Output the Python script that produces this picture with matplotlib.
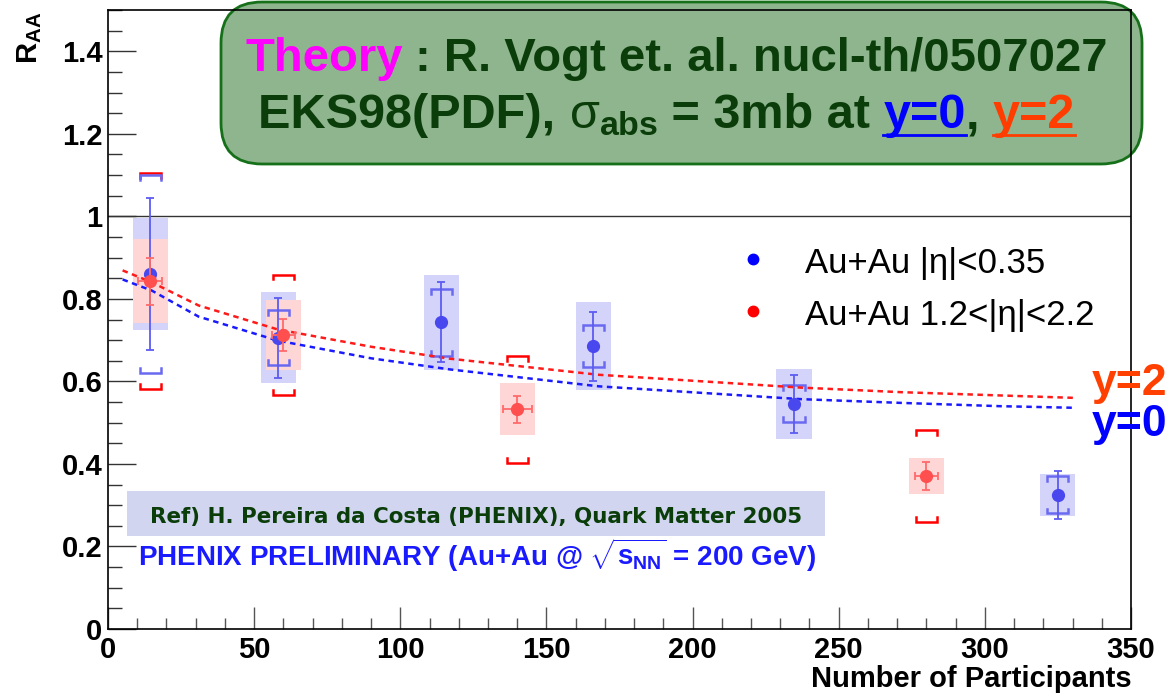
import matplotlib
matplotlib.use("Agg")
import matplotlib.pyplot as plt
from matplotlib.patches import Rectangle, FancyBboxPatch
from matplotlib.lines import Line2D
from matplotlib.ticker import MultipleLocator, FuncFormatter

# Au+Au |eta|<0.35 (mid rapidity)
npart_mid = [14.4, 58.2, 114.0, 166.0, 234.7, 325.0]
raa_mid = [0.860, 0.706, 0.743, 0.685, 0.546, 0.325]
stat_mid = [0.185, 0.097, 0.097, 0.083, 0.070, 0.058]
box_mid = [0.135, 0.110, 0.115, 0.107, 0.085, 0.050]
brk_mid = [0.240, 0.066, 0.081, 0.051, 0.045, 0.045]

# Au+Au 1.2<|eta|<2.2 (forward rapidity)
npart_fwd = [14.4, 60.0, 140.0, 280.0]
raa_fwd = [0.843, 0.713, 0.532, 0.371]
stat_fwd = [0.057, 0.039, 0.033, 0.034]
xerr_fwd = [4.0, 4.0, 5.0, 4.0]
box_fwd = [0.101, 0.085, 0.063, 0.044]
brk_fwd = [0.262, 0.146, 0.129, 0.112]

# Vogt EKS98, sigma_abs = 3 mb
npart_th = [5, 15, 31, 58, 90, 117, 168, 237, 271, 305, 331]
theory_y2 = [0.869, 0.840, 0.784, 0.726, 0.684, 0.655, 0.616, 0.585, 0.574, 0.566, 0.560]
theory_y0 = [0.847, 0.820, 0.757, 0.699, 0.656, 0.629, 0.588, 0.557, 0.548, 0.540, 0.536]

W, H = 1174, 693
BLUE = "#0000ff"
RED = "#ff0000"
DKGREEN = "#0a3d0a"
SANS = ["Liberation Sans", "DejaVu Sans"]

plt.rcParams["font.family"] = SANS
plt.rcParams["mathtext.fontset"] = "custom"
plt.rcParams["mathtext.rm"] = "Liberation Sans:bold"
plt.rcParams["mathtext.bf"] = "Liberation Sans:bold"
plt.rcParams["mathtext.it"] = "Liberation Sans"

fig = plt.figure(figsize=(W / 100, H / 100), dpi=100)
fig.patch.set_facecolor("white")


def fx(x):
    return x / W


def fy(y):
    return 1 - y / H


ax = fig.add_axes([fx(108), fy(629), (1131 - 108) / W, (629 - 10) / H])
ax.set_facecolor("none")
ax.set_zorder(1)
ax.set_xlim(0, 350)
ax.set_ylim(0, 1.5)

for s in ["left", "bottom", "right", "top"]:
    ax.spines[s].set_linewidth(1.2)
ax.yaxis.set_major_locator(MultipleLocator(0.2))
ax.yaxis.set_minor_locator(MultipleLocator(0.05))
ax.xaxis.set_major_locator(MultipleLocator(50))
ax.xaxis.set_minor_locator(MultipleLocator(10))
ax.yaxis.set_major_formatter(FuncFormatter(lambda v, p: "%g" % round(v, 2)))
ax.tick_params(axis="y", which="major", direction="in", length=20, width=1, color="#333333",
               pad=4, labelsize=21)
ax.tick_params(axis="y", which="minor", direction="in", length=10, width=1, color="#333333")
ax.tick_params(axis="x", which="major", direction="in", length=16, width=1, color="#555555",
               pad=5, labelsize=21)
ax.tick_params(axis="x", which="minor", direction="in", length=8, width=1, color="#555555")
for lab in ax.get_xticklabels() + ax.get_yticklabels():
    lab.set_fontweight("bold")

ax.axhline(1.0, color="#333333", lw=1.0, zorder=1)

# systematic boxes (drawn first so the bars show through)
for x, y, b in zip(npart_mid, raa_mid, box_mid):
    ax.add_patch(Rectangle((x - 6, y - b), 12, 2 * b, facecolor="#d4d4fb",
                           edgecolor="none", zorder=2))
for x, y, b in zip(npart_fwd, raa_fwd, box_fwd):
    ax.add_patch(Rectangle((x - 6, y - b), 12, 2 * b, facecolor="#ffd6d6",
                           edgecolor="none", zorder=2))


def brackets(xs, ys, errs, color, z):
    leg = 0.012
    for x, y, e in zip(xs, ys, errs):
        top, bot = y + e, y - e
        ax.plot([x - 3.6, x - 3.6, x + 3.6, x + 3.6], [top - leg, top, top, top - leg],
                color=color, lw=1.8, zorder=z, solid_joinstyle="miter")
        ax.plot([x - 3.6, x - 3.6, x + 3.6, x + 3.6], [bot + leg, bot, bot, bot + leg],
                color=color, lw=1.8, zorder=z, solid_joinstyle="miter")


brackets(npart_fwd, raa_fwd, brk_fwd, RED, 3)
brackets(npart_mid, raa_mid, brk_mid, "#6a6af0", 3)

# theory curves
ax.plot(npart_th, theory_y2, color="#ff1a1a", lw=1.8, ls=(0, (2.2, 1.8)), zorder=3)
ax.plot(npart_th, theory_y0, color="#1a1aff", lw=1.8, ls=(0, (2.2, 1.8)), zorder=3)

# measured points
ax.errorbar(npart_mid, raa_mid, yerr=stat_mid, fmt="o", ms=8.5, color="#4848ee",
            ecolor="#5c5cf2", elinewidth=1.3, capsize=3, capthick=1.3, zorder=4)
ax.errorbar(npart_fwd, raa_fwd, yerr=stat_fwd, xerr=xerr_fwd, fmt="o", ms=8.5, color="#ff4f4f",
            ecolor="#ff6a6a", elinewidth=1.3, capsize=3, capthick=1.3, zorder=5)

# legend
leg_items = [("Au+Au |η|<0.35", BLUE, 259, 273), ("Au+Au 1.2<|η|<2.2", RED, 311, 325)]
for label, c, ym, yb in leg_items:
    fig.add_artist(Line2D([fx(753)], [fy(ym)], marker="o", ms=7.5, color=c, lw=0))
    fig.text(fx(805), fy(yb), label, fontsize=25, va="baseline", ha="left", color="black")

# axis titles
fig.text(fx(1132), fy(687), "Number of Participants", fontsize=21, fontweight="bold",
         ha="right", va="baseline")
fig.text(fx(30), fy(12), r"$\mathbf{R}_{\mathbf{AA}}$", fontsize=21, rotation=90,
         ha="center", va="top")

# y=2 / y=0 labels at the right edge
fig.text(fx(1092), fy(395), "y=2", fontsize=32, fontweight="bold", color="#ff4000",
         va="baseline", ha="left", zorder=5)
fig.text(fx(1092), fy(436), "y=0", fontsize=32, fontweight="bold", color=BLUE,
         va="baseline", ha="left", zorder=5)

# theory box
fig.add_artist(FancyBboxPatch((fx(221), fy(164)), (1142 - 221) / W, (164 - 2) / H,
                              boxstyle="round,pad=0,rounding_size=0.035",
                              mutation_aspect=W / H, facecolor="#8eb58e",
                              edgecolor="#16701a", lw=2, zorder=-1))

renderer = fig.canvas.get_renderer()


def chain(pieces, x, y, size):
    for txt, color, under in pieces:
        t = fig.text(fx(x), fy(y), txt, fontsize=size, fontweight="bold", color=color,
                     ha="left", va="baseline", zorder=5)
        bb = t.get_window_extent(renderer=renderer)
        if under:
            fig.add_artist(Line2D([bb.x0 / W, bb.x1 / W], [fy(y + 7)] * 2, color=color,
                                  lw=2, zorder=5))
        x = bb.x1


chain([("Theory", "#ff00ff", False), (" : R. Vogt et. al. nucl-th/0507027", DKGREEN, False)],
      245, 71, 34)
chain([("EKS98(PDF), ", DKGREEN, False), (r"$\sigma_{\mathbf{abs}}$", DKGREEN, False),
       (" = 3mb at ", DKGREEN, False), ("y=0", BLUE, True), (", ", DKGREEN, False),
       ("y=2", "#ff3d00", True)], 258, 128, 35)

# reference box
fig.add_artist(Rectangle((fx(127), fy(536)), (825 - 127) / W, (536 - 491) / H,
                         facecolor="#d1d5f0", edgecolor="none", zorder=-1))
fig.text(fx(150), fy(523), "Ref) H. Pereira da Costa (PHENIX), Quark Matter 2005",
         family="DejaVu Sans", fontweight="bold", fontsize=15.4, color=DKGREEN,
         va="baseline", ha="left", zorder=5)
fig.text(fx(138), fy(566), r"PHENIX PRELIMINARY (Au+Au @ $\sqrt{\mathbf{s}_{\mathbf{NN}}}$ = 200 GeV)",
         fontweight="bold", fontsize=20, color="#1a1aff",
         va="baseline", ha="left", zorder=5)

fig.savefig("out.png", dpi=100)
